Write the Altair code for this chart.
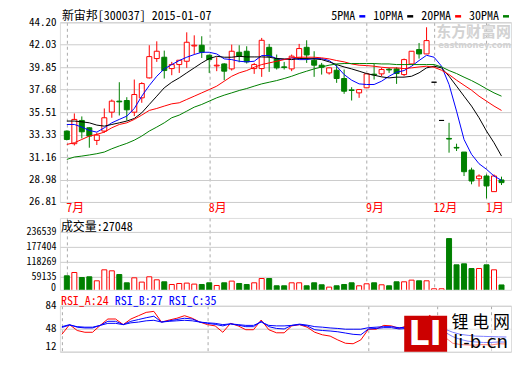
import altair as alt
import pandas as pd

FONT = "'Noto Sans Mono CJK SC', 'DejaVu Sans Mono', monospace"
CJK = "'Noto Sans CJK SC'"

title_text = "新宙邦[300037] 2015-01-07"

idx = list(range(59))
open_ = [33.67, 32.45, 34.70, 33.99, 32.77, 33.67, 35.50, 36.57, 36.63, 35.50,
         36.89, 38.82, 40.69, 40.82, 39.72, 40.11, 40.43, 41.91, 41.98, 41.01,
         39.98, 40.17, 39.69, 41.30, 41.40, 39.72, 39.72, 41.78, 40.66, 39.89,
         39.69, 40.75, 41.78, 40.53, 40.05, 39.30, 39.56, 38.76, 37.66, 37.37,
         37.86, 39.18, 39.21, 39.66, 39.69, 39.14, 40.17, 41.56, 41.14, 38.40,
         34.70, 32.96, 32.09, 31.64, 29.90, 29.06, 29.32, 27.81, 28.94]
high = [33.73, 35.38, 35.09, 34.05, 33.51, 35.86, 36.73, 38.40, 36.95, 38.66,
        38.40, 41.98, 42.36, 41.46, 40.37, 40.53, 43.23, 42.94, 42.85, 41.08,
        40.82, 40.24, 42.04, 41.98, 41.88, 40.27, 42.69, 42.11, 41.08, 40.37,
        41.08, 42.11, 42.46, 41.40, 40.27, 39.82, 40.11, 39.63, 37.92, 37.69,
        39.21, 40.17, 39.79, 39.79, 39.85, 40.69, 41.40, 42.20, 43.72, 38.40,
        34.70, 34.47, 32.45, 31.64, 30.13, 29.48, 29.48, 29.48, 29.26]
low = [32.77, 32.28, 32.96, 32.06, 32.32, 33.51, 34.96, 35.18, 34.70, 35.12,
       36.41, 38.76, 40.37, 38.76, 39.08, 39.30, 39.79, 41.08, 40.75, 39.30,
       39.47, 38.60, 39.53, 40.33, 40.21, 39.21, 38.92, 39.40, 39.63, 39.63,
       39.47, 40.75, 40.27, 38.92, 39.14, 39.14, 38.34, 37.28, 36.63, 36.89,
       37.86, 38.66, 38.98, 39.30, 38.24, 38.98, 40.11, 40.69, 41.14, 38.40,
       34.70, 31.58, 31.74, 29.32, 28.52, 28.29, 27.16, 27.81, 28.45]
close = [32.86, 34.80, 33.60, 33.19, 33.28, 34.96, 36.57, 36.50, 35.73, 37.21,
         38.27, 40.88, 41.40, 39.53, 40.11, 40.53, 42.27, 41.98, 41.30, 40.59,
         40.05, 39.47, 41.40, 40.92, 40.37, 40.11, 42.46, 40.92, 39.79, 39.82,
         40.92, 41.66, 41.04, 40.05, 39.85, 39.79, 38.76, 37.53, 37.60, 37.69,
         39.21, 39.11, 39.63, 39.59, 39.24, 40.59, 41.40, 41.14, 42.43, 38.40,
         34.70, 32.90, 32.03, 29.74, 28.84, 29.32, 28.36, 29.32, 28.68]
volume = [63080, 76100, 56400, 59130, 43370, 86730, 82790, 68200, 35480, 55190,
          38240, 59130, 47310, 39420, 28780, 32720, 34300, 30350, 28780, 35480,
          24840, 35480, 42180, 32720, 28780, 35480, 52430, 52430, 23650, 23650,
          35480, 35480, 23650, 35480, 27600, 18400, 23650, 28780, 35480, 23650,
          31540, 35480, 27600, 23650, 39420, 39420, 46000, 43370, 43370, 11800,
          11800, 210100, 106440, 110380, 91860, 91860, 106440, 86730, 27048]

ma5 = [34.31, 34.31, 34.06, 33.73, 33.57, 33.99, 34.47, 34.80, 35.12, 35.86,
       37.05, 38.08, 38.98, 39.69, 40.11, 40.50, 40.82, 41.08, 41.30, 41.30,
       41.14, 40.66, 40.59, 40.43, 40.37, 40.43, 40.98, 40.98, 40.69, 40.59,
       40.76, 40.59, 40.59, 40.69, 40.69, 40.50, 39.95, 39.14, 38.60, 38.24,
       38.18, 38.18, 38.50, 38.98, 39.37, 39.53, 39.95, 40.50, 41.01, 40.82,
       39.95, 38.18, 35.60, 32.86, 31.42, 30.51, 29.97, 29.32, 28.90]
ma10 = [34.64, 34.64, 34.57, 34.47, 34.25, 34.15, 34.31, 34.47, 34.64, 34.89,
        35.44, 36.25, 37.05, 37.86, 38.40, 38.82, 39.31, 39.79, 40.27, 40.69,
        40.91, 40.82, 40.82, 40.91, 40.85, 40.85, 40.85, 40.82, 40.69, 40.66,
        40.59, 40.69, 40.69, 40.66, 40.59, 40.37, 40.11, 39.88, 39.69, 39.47,
        39.24, 39.08, 38.92, 38.82, 38.89, 38.89, 38.98, 39.31, 39.79, 39.95,
        39.79, 38.98, 38.02, 37.05, 36.09, 34.96, 33.67, 32.54, 31.25]
ma20 = [32.38, 32.54, 32.86, 33.19, 33.35, 33.57, 33.99, 34.31, 34.47, 34.80,
        35.22, 35.67, 35.86, 36.09, 36.31, 36.41, 36.73, 37.05, 37.37, 37.69,
        38.02, 38.50, 38.98, 39.31, 39.53, 39.85, 40.11, 40.27, 40.43, 40.59,
        40.76, 40.82, 40.82, 40.82, 40.76, 40.66, 40.50, 40.37, 40.17, 40.05,
        40.01, 39.95, 39.85, 39.79, 39.79, 39.72, 39.79, 39.88, 39.95, 39.85,
        39.56, 39.14, 38.60, 38.11, 37.63, 37.05, 36.57, 36.09, 35.67]
ma30 = [30.93, 31.16, 31.25, 31.36, 31.48, 31.64, 31.96, 32.23, 32.48, 32.79,
        33.19, 33.67, 34.06, 34.47, 34.96, 35.22, 35.60, 35.99, 36.25, 36.57,
        36.89, 37.15, 37.37, 37.60, 37.79, 38.02, 38.24, 38.40, 38.56, 38.76,
        38.98, 39.24, 39.47, 39.69, 39.88, 40.05, 40.17, 40.21, 40.21, 40.21,
        40.21, 40.21, 40.17, 40.17, 40.11, 40.11, 40.11, 40.11, 40.11, 40.11,
        39.88, 39.53, 39.24, 38.89, 38.56, 38.18, 37.76, 37.37, 37.05]

rsi_a = [39.2, 54.4, 45.2, 42.4, 42.4, 53.2, 63.2, 63.2, 54.4, 63.2,
         68.4, 73.6, 75.2, 58.4, 61.6, 64.4, 68.4, 64.4, 58.4, 54.4,
         52.4, 42.4, 56.4, 52.4, 46.4, 46.4, 61.6, 46.4, 41.6, 41.6,
         52.4, 54.4, 50.4, 42.4, 38.4, 36.4, 30.4, 25.2, 24.4, 30.4,
         47.2, 47.2, 53.2, 52.4, 48.4, 52.4, 56.4, 57.2, 69.2, 56.4,
         34.4, 25.2, 23.2, 22.4, 22.4, 23.2, 22.4, 24.4, 24.0]
rsi_b = [51.2, 54.4, 50.4, 49.2, 49.2, 53.2, 59.6, 59.6, 54.4, 59.6,
         62.4, 65.2, 67.6, 58.4, 60.4, 62.4, 64.4, 63.2, 58.4, 56.4,
         54.8, 52.4, 55.6, 53.6, 51.2, 51.2, 59.6, 51.2, 48.4, 47.6,
         53.2, 54.4, 52.4, 46.4, 45.2, 44.4, 43.2, 41.2, 39.2, 38.4,
         47.6, 48.4, 49.6, 49.6, 47.6, 48.4, 54.4, 56.4, 60.4, 54.4,
         42.4, 35.6, 31.2, 28.4, 27.2, 26.4, 26.4, 27.2, 27.0]
rsi_c = [50.0, 53.6, 51.2, 50.4, 50.4, 53.2, 56.4, 56.4, 54.4, 57.2,
         58.4, 60.4, 61.2, 58.4, 59.6, 60.4, 61.2, 60.4, 58.4, 57.2,
         56.4, 54.4, 55.6, 54.4, 53.2, 53.2, 58.4, 53.2, 52.4, 52.4,
         53.2, 55.2, 53.6, 51.2, 50.4, 49.2, 48.4, 47.2, 47.2, 47.2,
         49.6, 50.4, 51.2, 51.2, 49.6, 50.4, 54.4, 55.2, 57.2, 54.4,
         47.2, 42.4, 39.2, 37.6, 36.4, 36.0, 35.6, 35.2, 35.0]

month_labels = ["7月", "8月", "9月", "12月", "1月"]
month_idx = [0, 19, 40, 49, 56]

price_ticks = [44.20, 42.03, 39.85, 37.68, 35.51, 33.33, 31.16, 28.98, 26.81]
vol_ticks = [59135, 118269, 177404, 236539]
rsi_ticks = [12, 48, 84]

ma_names = ["5PMA", "10PMA", "20PMA", "30PMA"]
ma_colors = ["#0000FF", "#000000", "#FF0000", "#008000"]
rsi_names = ["RSI_A", "RSI_B", "RSI_C"]
rsi_colors = ["#FF0000", "#0000FF", "#0000FF"]

# ---------------------------------------------------------------- data frames
candles = pd.DataFrame({"idx": idx, "open": open_, "high": high, "low": low,
                        "close": close, "vol": volume})
candles["dir"] = ["flat" if h == l else ("up" if c >= o else "down")
                  for o, h, l, c in zip(open_, high, low, close)]
candles["vdir"] = ["up" if c >= o else "down" for o, c in zip(open_, close)]

ma_df = pd.concat([pd.DataFrame({"idx": idx, "value": s, "series": n})
                   for n, s in zip(ma_names, [ma5, ma10, ma20, ma30])])
rsi_df = pd.concat([pd.DataFrame({"idx": idx, "value": s, "series": n})
                    for n, s in zip(rsi_names, [rsi_a, rsi_b, rsi_c])])

W = 452
H_MAIN, H_VOL, H_RSI = 180, 72, 46
XS = alt.Scale(domain=[-0.26, 58.6], nice=False, zero=False)
GRID = "#CCCCCC"
VGRID = "#AAAAAA"
HEAD_Y = -6

label_expr = " : ".join(f"datum.value == {i} ? '{m}'"
                        for i, m in zip(month_idx, month_labels)) + " : ''"


def xaxis(show):
    return alt.Axis(values=month_idx, labelExpr=label_expr, labels=show,
                    grid=True, gridDash=[3, 3], gridColor=VGRID, ticks=False,
                    domain=False, title=None, labelColor="#FF0000",
                    labelFont=FONT, labelFontSize=12, labelAlign="left",
                    labelPadding=1, labelOffset=-1, labelFlush=False,
                    labelOverlap=False)


def yaxis(vals, fmt, size, **kw):
    return alt.Axis(values=vals, format=fmt, grid=True, gridColor=GRID,
                    ticks=False, domain=False, title=None, labelFont=FONT,
                    labelFontSize=size, labelPadding=4, labelColor="#000000",
                    labelFlush=False, labelOverlap=False, **kw)


X = alt.X("idx:Q", scale=XS, axis=xaxis(True))
YS = alt.Scale(domain=[26.81, 44.20], nice=False, zero=False)
YA = yaxis(price_ticks, ".2f", 11)
stroke_dir = alt.Stroke("dir:N", scale=alt.Scale(domain=["up", "down", "flat"],
                        range=["#FF0000", "#008000", "#000000"]), legend=None)
fill_dir = alt.Fill("dir:N", scale=alt.Scale(domain=["up", "down", "flat"],
                    range=["#FFFFFF", "#008000", "#000000"]), legend=None)

one = alt.Data(values=[{}])

# faint site watermark, right-aligned inside the plot
watermark = alt.layer(
    alt.Chart(one).mark_text(text="东方财富网", font=CJK, fontSize=15,
                             fontWeight="bold", color="#D2D2D2", align="right",
                             baseline="middle").encode(x=alt.value(452), y=alt.value(10)),
    alt.Chart(one).mark_text(text="eastmoney.com", font="DejaVu Sans", fontSize=8.3,
                             fontWeight="bold", color="#D2D2D2", align="right",
                             baseline="middle").encode(x=alt.value(452), y=alt.value(24)),
)

wick = alt.Chart(candles).mark_rule(strokeWidth=1).encode(
    x=X, y=alt.Y("low:Q", scale=YS, axis=YA), y2="high:Q", stroke=stroke_dir)
body = alt.Chart(candles).mark_bar(size=5, strokeWidth=1).encode(
    x=X, y=alt.Y("open:Q", scale=YS, axis=YA), y2="close:Q",
    fill=fill_dir, stroke=stroke_dir)
ma_lines = alt.Chart(ma_df).mark_line(strokeWidth=1).encode(
    x=X, y=alt.Y("value:Q", scale=YS, axis=YA),
    color=alt.Color("series:N", scale=alt.Scale(domain=ma_names, range=ma_colors),
                    legend=None),
    order="idx:Q")

header = [alt.Chart(one).mark_text(text=title_text, font=FONT, fontSize=12,
                                   align="left", baseline="middle",
                                   color="#000000").encode(x=alt.value(2), y=alt.value(HEAD_Y))]
lx = 272
for name, col in zip(ma_names, ma_colors):
    header.append(alt.Chart(one).mark_text(text=name, font=FONT, fontSize=12,
                                           align="left", baseline="middle",
                                           color="#000000").encode(
        x=alt.value(lx), y=alt.value(HEAD_Y)))
    dx = lx + len(name) * 6 + 4
    header.append(alt.Chart(one).mark_rule(strokeWidth=2.5, color=col).encode(
        x=alt.value(dx), x2=alt.value(dx + 6), y=alt.value(HEAD_Y)))
    lx = dx + 6 + 8

anchor = alt.Chart(one).mark_rule(strokeOpacity=0, strokeWidth=0).encode(
    x=alt.value(-51), x2=alt.value(-51), y=alt.value(-13), y2=alt.value(-13))

main = alt.layer(watermark, wick, body, ma_lines, *header, anchor).properties(
    width=W, height=H_MAIN)

# ---------------------------------------------------------------- volume
XV = alt.X("idx:Q", scale=XS, axis=xaxis(False))
VS = alt.Scale(domain=[7885, 291735], nice=False, zero=False)
VA = yaxis(vol_ticks, "d", 10)
vol_bars = alt.Chart(candles).mark_bar(size=5, strokeWidth=1, clip=True).encode(
    x=XV,
    y=alt.Y("vol:Q", scale=VS, axis=VA),
    y2=alt.datum(0),
    fill=alt.Fill("vdir:N", scale=alt.Scale(domain=["up", "down"],
                  range=["#FFFFFF", "#008000"]), legend=None),
    stroke=alt.Stroke("vdir:N", scale=alt.Scale(domain=["up", "down"],
                      range=["#FF0000", "#008000"]), legend=None))
vol_zero = alt.Chart(one).mark_text(
    text="0", font=FONT, fontSize=10, align="right", baseline="bottom", dy=1,
    color="#000000").encode(x=alt.value(-4), y=alt.Y(datum=0, scale=VS, axis=VA))
vol_title = alt.Chart(one).mark_text(
    text=f"成交量:{volume[-1]}", font=FONT, fontSize=12, align="left",
    baseline="middle", color="#000000").encode(x=alt.value(1), y=alt.value(9))
vol = alt.layer(vol_bars, vol_zero, vol_title).properties(width=W, height=H_VOL)

# ---------------------------------------------------------------- RSI
rsi_axis = yaxis(rsi_ticks, "d", 11,
                 labelBaseline={"condition": {"test": "datum.value == 12", "value": "bottom"},
                                "value": "middle"})
rsi_lines = alt.Chart(rsi_df).mark_line(strokeWidth=1).encode(
    x=XV,
    y=alt.Y("value:Q", scale=alt.Scale(domain=[12, 84], nice=False, zero=False),
            axis=rsi_axis),
    color=alt.Color("series:N", scale=alt.Scale(domain=rsi_names, range=rsi_colors),
                    legend=None),
    detail="series:N", order="idx:Q")

rsi_layers = [rsi_lines]
tx = 1
for name, col, s in zip(rsi_names, rsi_colors, [rsi_a, rsi_b, rsi_c]):
    t = f"{name}:{round(s[-1])}"
    rsi_layers.append(alt.Chart(one).mark_text(text=t, font=FONT, fontSize=12,
                                               align="left", baseline="middle",
                                               color=col).encode(
        x=alt.value(tx), y=alt.value(-5)))
    tx += (len(t) + 1) * 6

# site logo (bottom right), texts right-aligned inside the plot
rsi_layers += [
    alt.Chart(one).mark_rect(color="#FFFFFF", opacity=0.5).encode(
        x=alt.value(388), x2=alt.value(452), y=alt.value(10), y2=alt.value(46)),
    alt.Chart(one).mark_rect(color="#CC0000").encode(
        x=alt.value(345), x2=alt.value(388), y=alt.value(10), y2=alt.value(46)),
    alt.Chart(one).mark_text(text="LI", font="DejaVu Sans", fontSize=33,
                             fontWeight="bold", color="#FFFFFF", align="center",
                             baseline="middle").encode(x=alt.value(366), y=alt.value(29)),
    alt.Chart(one).mark_text(text="锂 电 网", font=CJK, fontSize=17,
                             color="#000000", align="right",
                             baseline="middle").encode(x=alt.value(451), y=alt.value(17)),
    alt.Chart(one).mark_text(text="li-b.cn", font="DejaVu Sans", fontSize=18,
                             color="#000000", align="right",
                             baseline="middle").encode(x=alt.value(449), y=alt.value(37)),
]
rsi = alt.layer(*rsi_layers).properties(width=W, height=H_RSI)

chart = alt.vconcat(main, vol, rsi, spacing=16, bounds="flush").resolve_scale(
    color="independent", fill="independent", stroke="independent"
).properties(padding=0).configure_view(
    stroke="#A0A0A0", strokeWidth=1).configure(background="#FFFFFF")

chart.save("out.html", embed_options={"renderer": "svg", "actions": False})
